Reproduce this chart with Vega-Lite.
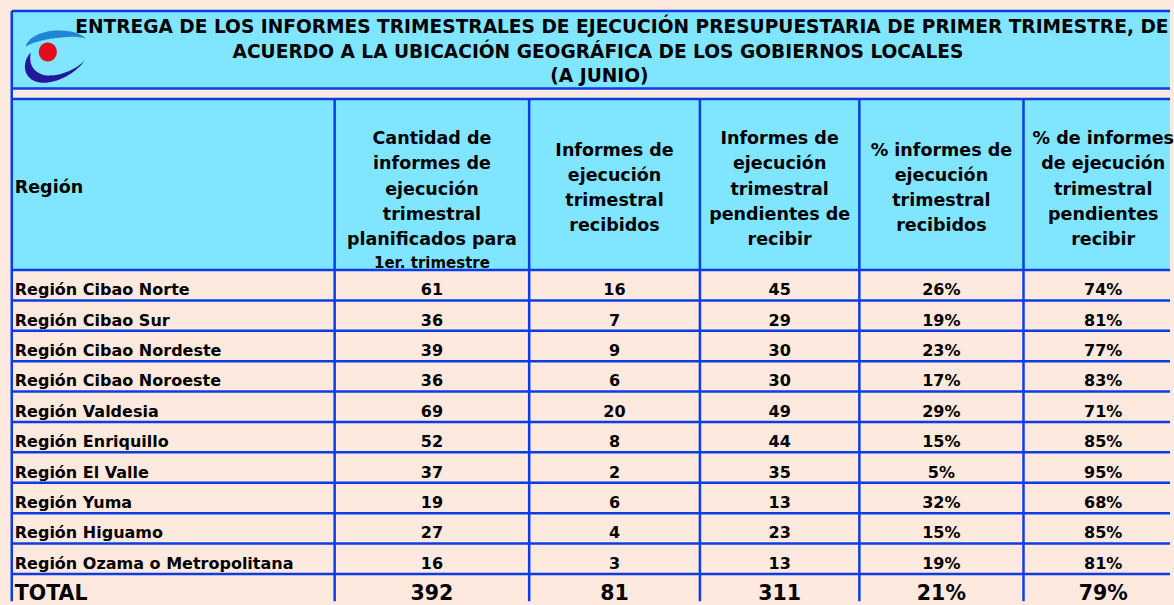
{
  "$schema": "https://vega.github.io/schema/vega-lite/v6.json",
  "width": 1174,
  "height": 605,
  "autosize": {"type": "fit", "contains": "padding"},
  "padding": 0,
  "background": "#fde9dd",
  "config": {
    "view": {"stroke": null},
    "text": {"font": "DejaVu Sans", "fontWeight": "bold", "color": "#000000"}
  },
  "datasets": {
    "rows": [
      {"region": "Región Cibao Norte", "row": 1, "planned": 61, "received": 16, "pending": 45, "pctReceived": 0.26, "pctPending": 0.74},
      {"region": "Región Cibao Sur", "row": 2, "planned": 36, "received": 7, "pending": 29, "pctReceived": 0.19, "pctPending": 0.81},
      {"region": "Región Cibao Nordeste", "row": 3, "planned": 39, "received": 9, "pending": 30, "pctReceived": 0.23, "pctPending": 0.77},
      {"region": "Región Cibao Noroeste", "row": 4, "planned": 36, "received": 6, "pending": 30, "pctReceived": 0.17, "pctPending": 0.83},
      {"region": "Región Valdesia", "row": 5, "planned": 69, "received": 20, "pending": 49, "pctReceived": 0.29, "pctPending": 0.71},
      {"region": "Región Enriquillo", "row": 6, "planned": 52, "received": 8, "pending": 44, "pctReceived": 0.15, "pctPending": 0.85},
      {"region": "Región El Valle", "row": 7, "planned": 37, "received": 2, "pending": 35, "pctReceived": 0.05, "pctPending": 0.95},
      {"region": "Región Yuma", "row": 8, "planned": 19, "received": 6, "pending": 13, "pctReceived": 0.32, "pctPending": 0.68},
      {"region": "Región Higuamo", "row": 9, "planned": 27, "received": 4, "pending": 23, "pctReceived": 0.15, "pctPending": 0.85},
      {"region": "Región Ozama o Metropolitana", "row": 10, "planned": 16, "received": 3, "pending": 13, "pctReceived": 0.19, "pctPending": 0.81},
      {"region": "TOTAL", "row": 11, "planned": 392, "received": 81, "pending": 311, "pctReceived": 0.21, "pctPending": 0.79}
    ],
    "columns": [
      {"key": "region", "x0": 11.8, "x1": 335.8, "cx": 173.8},
      {"key": "planned", "x0": 335.8, "x1": 531, "cx": 433.4},
      {"key": "received", "x0": 531, "x1": 702.3, "cx": 616.6},
      {"key": "pending", "x0": 702.3, "x1": 862.3, "cx": 782.3},
      {"key": "pctReceived", "x0": 862.3, "x1": 1027, "cx": 944.6},
      {"key": "pctPending", "x0": 1027, "x1": 1187, "cx": 1107}
    ],
    "headers": [
      {"key": "region", "kind": "left", "y": -2.19, "text": "Región"},
      {"key": "planned", "kind": "main", "y": -3.8, "text": "Cantidad de\ninformes de\nejecución\ntrimestral\nplanificados para"},
      {"key": "planned", "kind": "note", "y": 0.28, "text": "1er.  trimestre"},
      {"key": "received", "kind": "main", "y": -3.42, "text": "Informes de\nejecución\ntrimestral\nrecibidos"},
      {"key": "pending", "kind": "main", "y": -3.8, "text": "Informes de\nejecución\ntrimestral\npendientes de\nrecibir"},
      {"key": "pctReceived", "kind": "main", "y": -3.42, "text": "% informes de\nejecución\ntrimestral\nrecibidos"},
      {"key": "pctPending", "kind": "main", "y": -3.8, "text": "% de informes\nde ejecución\ntrimestral\npendientes\nrecibir"}
    ],
    "titleLines": [
      {"text": "ENTREGA DE LOS INFORMES TRIMESTRALES DE EJECUCIÓN PRESUPUESTARIA DE PRIMER TRIMESTRE, DE", "cx": 624, "y": -7.497},
      {"text": "ACUERDO A LA UBICACIÓN GEOGRÁFICA DE LOS GOBIERNOS LOCALES", "cx": 600, "y": -6.676},
      {"text": "(A JUNIO)", "cx": 601.5, "y": -5.868}
    ],
    "logo": [
      {"part": "upper", "x": 51.5, "y": -6.559},
      {"part": "lower", "x": 51.5, "y": -6.559},
      {"part": "dot", "x": 51.5, "y": -6.559}
    ],
    "bands": [
      {"part": "title", "x0": 11.8, "x1": 1174, "y0": -8.018, "y1": -5.474},
      {"part": "header", "x0": 11.8, "x1": 1174, "y0": -5.125, "y1": 0.5}
    ],
    "grid": [
      {"x": 11.8, "x2": 1174, "y": -8.018, "y2": -8.018},
      {"x": 11.8, "x2": 1174, "y": -5.474, "y2": -5.474},
      {"x": 11.8, "x2": 1174, "y": -5.125, "y2": -5.125},
      {"x": 11.8, "x2": 1174, "y": 0.5, "y2": 0.5},
      {"x": 11.8, "x2": 1174, "y": 1.5, "y2": 1.5},
      {"x": 11.8, "x2": 1174, "y": 2.5, "y2": 2.5},
      {"x": 11.8, "x2": 1174, "y": 3.5, "y2": 3.5},
      {"x": 11.8, "x2": 1174, "y": 4.5, "y2": 4.5},
      {"x": 11.8, "x2": 1174, "y": 5.5, "y2": 5.5},
      {"x": 11.8, "x2": 1174, "y": 6.5, "y2": 6.5},
      {"x": 11.8, "x2": 1174, "y": 7.5, "y2": 7.5},
      {"x": 11.8, "x2": 1174, "y": 8.5, "y2": 8.5},
      {"x": 11.8, "x2": 1174, "y": 9.5, "y2": 9.5},
      {"x": 11.8, "x2": 1174, "y": 10.5, "y2": 10.5},
      {"x": 11.8, "x2": 11.8, "y": -8.018, "y2": 11.4},
      {"x": 335.8, "x2": 335.8, "y": -5.125, "y2": 11.4},
      {"x": 531, "x2": 531, "y": -5.125, "y2": 11.4},
      {"x": 702.3, "x2": 702.3, "y": -5.125, "y2": 11.4},
      {"x": 862.3, "x2": 862.3, "y": -5.125, "y2": 11.4},
      {"x": 1027, "x2": 1027, "y": -5.125, "y2": 11.4}
    ]
  },
  "layer": [
    {
      "data": {"name": "bands"},
      "mark": {"type": "rect", "fill": "#80e5ff", "strokeWidth": 0},
      "encoding": {
        "x": {"field": "x0", "type": "quantitative", "scale": {"domain": [0, 1174], "nice": false, "zero": false}, "axis": null},
        "x2": {"field": "x1"},
        "y": {"field": "y0", "type": "quantitative", "scale": {"domain": [-8.383, 11.324], "reverse": true, "nice": false, "zero": false}, "axis": null},
        "y2": {"field": "y1"}
      }
    },
    {
      "data": {"name": "grid"},
      "mark": {"type": "rule", "color": "#0b3de6", "strokeWidth": 2.5},
      "encoding": {
        "x": {"field": "x", "type": "quantitative", "scale": {"domain": [0, 1174], "nice": false, "zero": false}, "axis": null},
        "x2": {"field": "x2"},
        "y": {"field": "y", "type": "quantitative", "scale": {"domain": [-8.383, 11.324], "reverse": true, "nice": false, "zero": false}, "axis": null},
        "y2": {"field": "y2"}
      }
    },
    {
      "data": {"name": "logo"},
      "mark": {"type": "point", "filled": true, "size": 4356, "opacity": 1, "strokeWidth": 0},
      "encoding": {
        "x": {"field": "x", "type": "quantitative", "scale": {"domain": [0, 1174], "nice": false, "zero": false}, "axis": null},
        "y": {"field": "y", "type": "quantitative", "scale": {"domain": [-8.383, 11.324], "reverse": true, "nice": false, "zero": false}, "axis": null},
        "shape": {
          "field": "part", "type": "nominal", "legend": null,
          "scale": {
            "domain": ["upper", "lower", "dot"],
            "range": [
              "M -0.773 -0.273 C -0.712 -0.545 -0.288 -0.758 0.197 -0.758 C 0.561 -0.758 0.864 -0.697 1.045 -0.515 C 0.803 -0.576 0.561 -0.576 0.318 -0.545 C -0.106 -0.515 -0.5 -0.424 -0.773 -0.273 Z",
              "M -0.621 -0.091 C -0.894 0.182 -0.894 0.727 -0.348 0.818 C 0.106 0.879 0.712 0.576 1.015 0.152 C 0.742 0.424 0.258 0.636 -0.136 0.606 C -0.47 0.576 -0.712 0.303 -0.621 -0.091 Z",
              "M 0.167 -0.106 C 0.167 0.053 0.045 0.182 -0.106 0.182 C -0.257 0.182 -0.379 0.053 -0.379 -0.106 C -0.379 -0.265 -0.257 -0.394 -0.106 -0.394 C 0.045 -0.394 0.167 -0.265 0.167 -0.106 Z"
            ]
          }
        },
        "color": {
          "field": "part", "type": "nominal", "legend": null,
          "scale": {"domain": ["upper", "lower", "dot"], "range": ["#1f86d6", "#23179a", "#e30b1c"]}
        }
      }
    },
    {
      "data": {"name": "titleLines"},
      "mark": {"type": "text", "align": "center", "baseline": "middle", "fontSize": 18.6},
      "encoding": {
        "x": {"field": "cx", "type": "quantitative", "scale": {"domain": [0, 1174], "nice": false, "zero": false}, "axis": null},
        "y": {"field": "y", "type": "quantitative", "scale": {"domain": [-8.383, 11.324], "reverse": true, "nice": false, "zero": false}, "axis": null},
        "text": {"field": "text", "type": "nominal"}
      }
    },
    {
      "data": {"name": "headers"},
      "transform": [
        {"filter": "datum.kind === 'main'"},
        {"lookup": "key", "from": {"data": {"name": "columns"}, "key": "key", "fields": ["x0", "cx"]}}
      ],
      "mark": {"type": "text", "align": "center", "baseline": "middle", "fontSize": 17.5, "lineBreak": "\n", "lineHeight": 25.2},
      "encoding": {
        "x": {"field": "cx", "type": "quantitative", "scale": {"domain": [0, 1174], "nice": false, "zero": false}, "axis": null},
        "y": {"field": "y", "type": "quantitative", "scale": {"domain": [-8.383, 11.324], "reverse": true, "nice": false, "zero": false}, "axis": null},
        "text": {"field": "text", "type": "nominal"}
      }
    },
    {
      "data": {"name": "headers"},
      "transform": [
        {"filter": "datum.kind === 'note'"},
        {"lookup": "key", "from": {"data": {"name": "columns"}, "key": "key", "fields": ["x0", "cx"]}}
      ],
      "mark": {"type": "text", "align": "center", "baseline": "middle", "fontSize": 15},
      "encoding": {
        "x": {"field": "cx", "type": "quantitative", "scale": {"domain": [0, 1174], "nice": false, "zero": false}, "axis": null},
        "y": {"field": "y", "type": "quantitative", "scale": {"domain": [-8.383, 11.324], "reverse": true, "nice": false, "zero": false}, "axis": null},
        "text": {"field": "text", "type": "nominal"}
      }
    },
    {
      "data": {"name": "headers"},
      "transform": [
        {"filter": "datum.kind === 'left'"},
        {"lookup": "key", "from": {"data": {"name": "columns"}, "key": "key", "fields": ["x0", "cx"]}}
      ],
      "mark": {"type": "text", "align": "left", "baseline": "middle", "fontSize": 17.5, "dx": 3},
      "encoding": {
        "x": {"field": "x0", "type": "quantitative", "scale": {"domain": [0, 1174], "nice": false, "zero": false}, "axis": null},
        "y": {"field": "y", "type": "quantitative", "scale": {"domain": [-8.383, 11.324], "reverse": true, "nice": false, "zero": false}, "axis": null},
        "text": {"field": "text", "type": "nominal"}
      }
    },
    {
      "data": {"name": "rows"},
      "transform": [
        {"fold": ["region"], "as": ["key", "value"]},
        {"lookup": "key", "from": {"data": {"name": "columns"}, "key": "key", "fields": ["x0", "cx"]}}
      ],
      "mark": {"type": "text", "align": "left", "baseline": "middle", "dx": 3, "dy": 5},
      "encoding": {
        "x": {"field": "x0", "type": "quantitative", "scale": {"domain": [0, 1174], "nice": false, "zero": false}, "axis": null},
        "y": {"field": "row", "type": "quantitative", "scale": {"domain": [-8.383, 11.324], "reverse": true, "nice": false, "zero": false}, "axis": null},
        "text": {"field": "value", "type": "nominal"},
        "size": {"condition": {"test": "datum.region === 'TOTAL'", "value": 20.5}, "value": 16}
      }
    },
    {
      "data": {"name": "rows"},
      "transform": [
        {"fold": ["planned", "received", "pending"], "as": ["key", "value"]},
        {"lookup": "key", "from": {"data": {"name": "columns"}, "key": "key", "fields": ["x0", "cx"]}}
      ],
      "mark": {"type": "text", "align": "center", "baseline": "middle", "dy": 5},
      "encoding": {
        "x": {"field": "cx", "type": "quantitative", "scale": {"domain": [0, 1174], "nice": false, "zero": false}, "axis": null},
        "y": {"field": "row", "type": "quantitative", "scale": {"domain": [-8.383, 11.324], "reverse": true, "nice": false, "zero": false}, "axis": null},
        "text": {"field": "value", "type": "quantitative", "format": "d"},
        "size": {"condition": {"test": "datum.region === 'TOTAL'", "value": 20.5}, "value": 16}
      }
    },
    {
      "data": {"name": "rows"},
      "transform": [
        {"fold": ["pctReceived", "pctPending"], "as": ["key", "value"]},
        {"lookup": "key", "from": {"data": {"name": "columns"}, "key": "key", "fields": ["x0", "cx"]}}
      ],
      "mark": {"type": "text", "align": "center", "baseline": "middle", "dy": 5},
      "encoding": {
        "x": {"field": "cx", "type": "quantitative", "scale": {"domain": [0, 1174], "nice": false, "zero": false}, "axis": null},
        "y": {"field": "row", "type": "quantitative", "scale": {"domain": [-8.383, 11.324], "reverse": true, "nice": false, "zero": false}, "axis": null},
        "text": {"field": "value", "type": "quantitative", "format": ".0%"},
        "size": {"condition": {"test": "datum.region === 'TOTAL'", "value": 20.5}, "value": 16}
      }
    }
  ]
}
